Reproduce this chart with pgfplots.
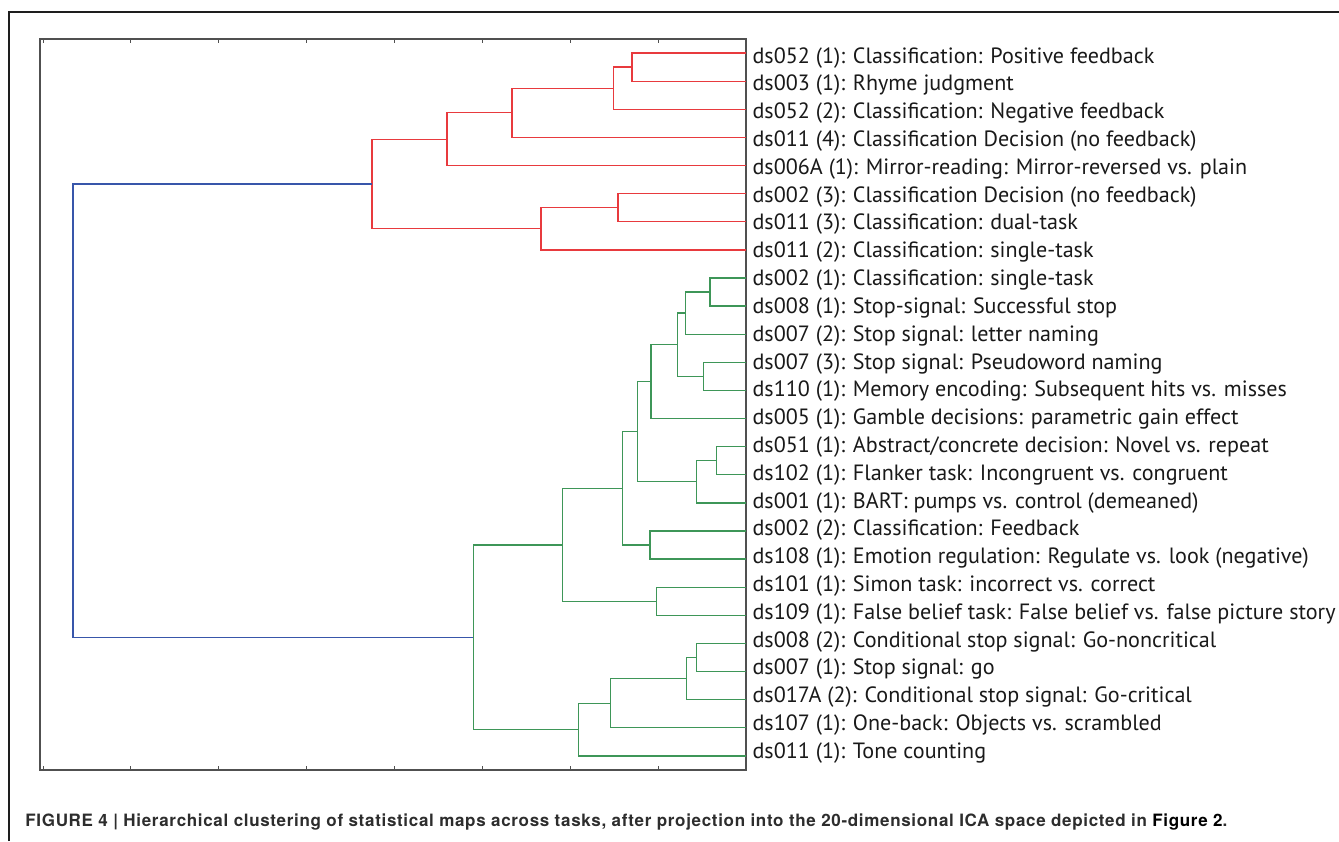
\documentclass[border=0pt]{standalone}
\usepackage{fontspec}
\usepackage{pgfplots}
\pgfplotsset{compat=1.18}
\newfontfamily\labelfont{PT Sans}
\newfontfamily\capfont[LetterSpace=4]{TeX Gyre Heros}
\definecolor{dred}{RGB}{232,58,62}
\definecolor{dgreen}{RGB}{62,150,88}
\definecolor{dblue}{RGB}{56,86,170}
\definecolor{axgray}{RGB}{80,80,80}
\definecolor{capgray}{RGB}{45,45,45}
\definecolor{labtext}{RGB}{25,25,25}
\definecolor{frame}{RGB}{30,30,30}
\begin{document}
\begin{tikzpicture}
\useasboundingbox (0,0) rectangle (669.5pt,420.5pt);
\draw[line width=1pt,frame] (4.5pt,0) -- (4.5pt,414.5pt) -- (669.5pt,414.5pt);
\begin{axis}[at={(20pt,35.5pt)}, anchor=south west, scale only axis,
 width=353pt, height=365.5pt,
 x dir=reverse, y dir=reverse, xmin=0, xmax=8.035, ymin=0.5, ymax=26.5,
 xtick={0,...,8}, xticklabels={}, tick align=inside, major tick length=2pt,
 ytick={1.356,2.3453,...,26.1}, yticklabel pos=right, y tick style={draw=none},
 yticklabels={
 {ds052 (1): Classification: Positive feedback},
 {ds003 (1): Rhyme judgment},
 {ds052 (2): Classification: Negative feedback},
 {ds011 (4): Classification Decision (no feedback)},
 {ds006A (1): Mirror-reading: Mirror-reversed vs. plain},
 {ds002 (3): Classification Decision (no feedback)},
 {ds011 (3): Classification: dual-task},
 {ds011 (2): Classification: single-task},
 {ds002 (1): Classification: single-task},
 {ds008 (1): Stop-signal: Successful stop},
 {ds007 (2): Stop signal: letter naming},
 {ds007 (3): Stop signal: Pseudoword naming},
 {ds110 (1): Memory encoding: Subsequent hits vs. misses},
 {ds005 (1): Gamble decisions: parametric gain effect},
 {ds051 (1): Abstract/concrete decision: Novel vs. repeat},
 {ds102 (1): Flanker task: Incongruent vs. congruent},
 {ds001 (1): BART: pumps vs. control (demeaned)},
 {ds002 (2): Classification: Feedback},
 {ds108 (1): Emotion regulation: Regulate vs. look (negative)},
 {ds101 (1): Simon task: incorrect vs. correct},
 {ds109 (1): False belief task: False belief vs. false picture story},
 {ds008 (2): Conditional stop signal: Go-noncritical},
 {ds007 (1): Stop signal: go},
 {ds017A (2): Conditional stop signal: Go-critical},
 {ds107 (1): One-back: Objects vs. scrambled},
 {ds011 (1): Tone counting}},
 y tick label style={font=\labelfont\fontsize{11.05pt}{12pt}\selectfont, anchor=base west, inner sep=0pt, xshift=3.1pt, text=labtext},
 axis line style={axgray, line width=0.6pt},
 x tick style={axgray, line width=0.5pt},
 every axis plot/.append style={line width=0.65pt, mark=none},
 clip=false]
% red cluster
\addplot[dred] coordinates {(0,1)(1.298,1)(1.298,2)(0,2)};
\addplot[dred] coordinates {(1.298,1.5)(1.510,1.5)(1.510,3)(0,3)};
\addplot[dred] coordinates {(1.510,2.25)(2.663,2.25)(2.663,4)(0,4)};
\addplot[dred] coordinates {(2.663,3.125)(3.403,3.125)(3.403,5)(0,5)};
\addplot[dred] coordinates {(0,6)(1.457,6)(1.457,7)(0,7)};
\addplot[dred] coordinates {(1.457,6.5)(2.333,6.5)(2.333,8)(0,8)};
\addplot[dred] coordinates {(3.403,4.0625)(4.257,4.0625)(4.257,7.25)(2.333,7.25)};
% root
\addplot[dblue] coordinates {(4.257,5.65625)(7.660,5.65625)(7.660,21.777)(3.104,21.777)};
% green cluster
\addplot[dgreen] coordinates {(0,9)(0.410,9)(0.410,10)(0,10)};
\addplot[dgreen] coordinates {(0.410,9.5)(0.686,9.5)(0.686,11)(0,11)};
\addplot[dgreen] coordinates {(0,12)(0.486,12)(0.486,13)(0,13)};
\addplot[dgreen] coordinates {(0.686,10.25)(0.782,10.25)(0.782,12.5)(0.486,12.5)};
\addplot[dgreen] coordinates {(0.782,11.375)(1.081,11.375)(1.081,14)(0,14)};
\addplot[dgreen] coordinates {(0,15)(0.333,15)(0.333,16)(0,16)};
\addplot[dgreen] coordinates {(0.333,15.5)(0.566,15.5)(0.566,17)(0,17)};
\addplot[dgreen] coordinates {(1.081,12.6875)(1.237,12.6875)(1.237,16.25)(0.566,16.25)};
\addplot[dgreen] coordinates {(0,18)(1.093,18)(1.093,19)(0,19)};
\addplot[dgreen] coordinates {(1.237,14.46875)(1.403,14.46875)(1.403,18.5)(1.093,18.5)};
\addplot[dgreen] coordinates {(0,20)(1.016,20)(1.016,21)(0,21)};
\addplot[dgreen] coordinates {(1.403,16.484)(2.091,16.484)(2.091,20.5)(1.016,20.5)};
\addplot[dgreen] coordinates {(0,22)(0.561,22)(0.561,23)(0,23)};
\addplot[dgreen] coordinates {(0.561,22.5)(0.679,22.5)(0.679,24)(0,24)};
\addplot[dgreen] coordinates {(0.679,23.25)(1.540,23.25)(1.540,25)(0,25)};
\addplot[dgreen] coordinates {(1.540,24.125)(1.904,24.125)(1.904,26)(0,26)};
\addplot[dgreen] coordinates {(2.091,18.492)(3.104,18.492)(3.104,25.0625)(1.904,25.0625)};
\end{axis}
\node[anchor=base west, inner sep=0pt, text=capgray, font=\capfont\bfseries\fontsize{8.5pt}{9pt}\selectfont] at (12.5pt,7.15pt) {FIGURE 4 | Hierarchical clustering of statistical maps across tasks, after projection into the 20-dimensional ICA space depicted in \textcolor{black}{Figure 2}.};
\end{tikzpicture}
\end{document}
